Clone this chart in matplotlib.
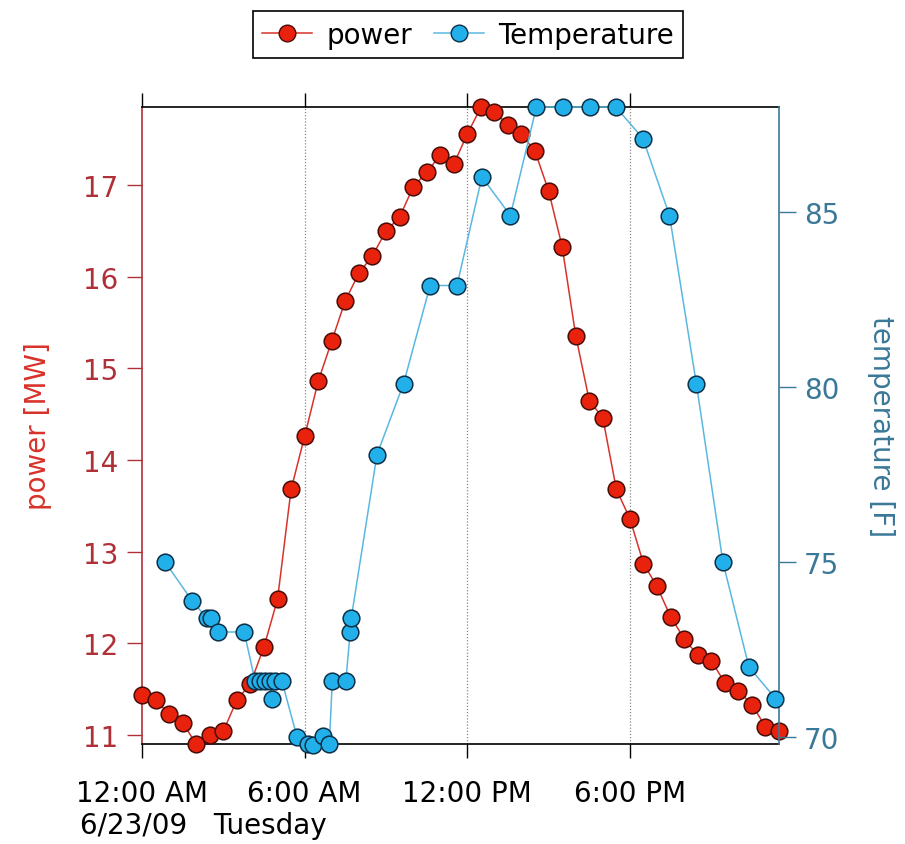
# -*- coding: utf-8 -*-

import numpy as np
import matplotlib
matplotlib.use('Agg')
import matplotlib.pyplot as plt
from matplotlib.lines import Line2D

# power, every half hour from 12:00 AM (hours)
power_hours = np.arange(48) * 0.5
power_mw = [11.43, 11.38, 11.23, 11.13, 10.90, 11.00, 11.04, 11.38, 11.56, 11.96,
            12.48, 13.68, 14.26, 14.86, 15.30, 15.74, 16.04, 16.23, 16.50, 16.65,
            16.98, 17.14, 17.33, 17.23, 17.56, 17.85, 17.80, 17.66, 17.56, 17.37,
            16.94, 16.33, 15.36, 14.65, 14.46, 13.68, 13.36, 12.87, 12.62, 12.29,
            12.05, 11.87, 11.81, 11.57, 11.48, 11.33, 11.09, 11.04]

# temperature observations (hours after midnight, deg F)
temp_hours = [0.85, 1.84, 2.39, 2.54, 2.82, 3.77, 4.17, 4.36, 4.54, 4.73, 4.80,
              4.91, 5.16, 5.72, 6.13, 6.30, 6.68, 6.91, 7.02, 7.52, 7.68, 7.72,
              8.67, 9.65, 10.63, 11.62, 12.54, 13.59, 14.55, 15.54, 16.52, 17.48,
              18.48, 19.46, 20.45, 21.43, 22.39, 23.37]
temp_f = [75.0, 73.9, 73.4, 73.4, 73.0, 73.0, 71.6, 71.6, 71.6, 71.6, 71.1,
          71.6, 71.6, 70.0, 69.8, 69.76, 70.03, 69.8, 71.6, 71.6, 73.0, 73.4,
          78.07, 80.1, 82.9, 82.9, 86.0, 84.9, 88.0, 88.0, 88.0, 88.0,
          87.1, 84.9, 80.1, 75.0, 72.0, 71.1]

tick_hours = [0, 6, 12, 18]
tick_labels = ['12:00 AM', '6:00 AM', '12:00 PM', '6:00 PM']
date_label = '6/23/09   Tuesday'

red_axis = '#b03038'
blue_axis = '#3a7898'
fs = 20
ms = 12

plt.rcParams['font.family'] = ['DejaVu Sans']

fig = plt.figure(figsize=(9.05, 8.45), dpi=100)
ax1 = fig.add_axes([142 / 905, 100 / 845, 637 / 905, 637 / 845])
ax2 = ax1.twinx()

ax1.plot(power_hours, power_mw, '-o', color='#d8322a', lw=1.1,
         markersize=ms, markerfacecolor='#e8220c', markeredgecolor='#4a0c06',
         markeredgewidth=1.1, clip_on=False, zorder=3)
ax2.plot(temp_hours, temp_f, '-o', color='#5ab8e0', lw=1.1,
         markersize=ms, markerfacecolor='#22b0ea', markeredgecolor='#0c3048',
         markeredgewidth=1.1, clip_on=False, zorder=3)

ax1.set_xlim(0, 23.5)
ax1.set_ylim(10.9, 17.855)
ax2.set_ylim(69.8, 88.0)

ax1.set_xticks(tick_hours)
ax1.set_xticklabels(tick_labels, fontsize=fs)
for h in tick_hours[1:]:
    ax1.axvline(h, color='#888888', lw=0.9, ls=(0, (1, 1.5)), zorder=1)

ax1.set_yticks([11, 12, 13, 14, 15, 16, 17])
ax2.set_yticks([70, 75, 80, 85])

ax1.tick_params(axis='x', direction='out', length=10, width=1, top=True,
                labeltop=False, colors='black', pad=15)
ax1.tick_params(axis='y', direction='out', length=11, width=1,
                colors=red_axis, labelsize=fs, pad=6)
ax2.tick_params(axis='y', direction='out', length=12, width=1,
                colors=blue_axis, labelsize=fs, pad=6)

ax1.spines['left'].set_color(red_axis)
ax1.spines['right'].set_visible(False)
ax2.spines['left'].set_visible(False)
ax2.spines['top'].set_visible(False)
ax2.spines['bottom'].set_visible(False)
ax2.spines['right'].set_color(blue_axis)
for s in ax1.spines.values():
    s.set_linewidth(1.2)
ax2.spines['right'].set_linewidth(1.2)

ax1.set_ylabel('power [MW]', color='#d8322a', fontsize=fs, labelpad=22)
ax2.set_ylabel('temperature [F]', color=blue_axis, fontsize=fs,
               rotation=270, labelpad=40)

fig.text(80 / 905, 1 - 826 / 845, date_label, fontsize=fs, va='center', ha='left')

handles = [
    Line2D([], [], color='#d8322a', lw=1.1, marker='o', markersize=ms,
           markerfacecolor='#e8220c', markeredgecolor='#4a0c06'),
    Line2D([], [], color='#5ab8e0', lw=1.1, marker='o', markersize=ms,
           markerfacecolor='#22b0ea', markeredgecolor='#0c3048'),
]
leg = fig.legend(handles, ['power', 'Temperature'], loc='center',
                 bbox_to_anchor=(468 / 905, 1 - 35.5 / 845), ncol=2,
                 fontsize=fs, frameon=True, fancybox=False, framealpha=1,
                 edgecolor='black', handlelength=1.8, handletextpad=0.5,
                 columnspacing=0.8, borderpad=0.35, borderaxespad=0)
leg.get_frame().set_linewidth(1.2)

fig.savefig('out.png', dpi=100)
